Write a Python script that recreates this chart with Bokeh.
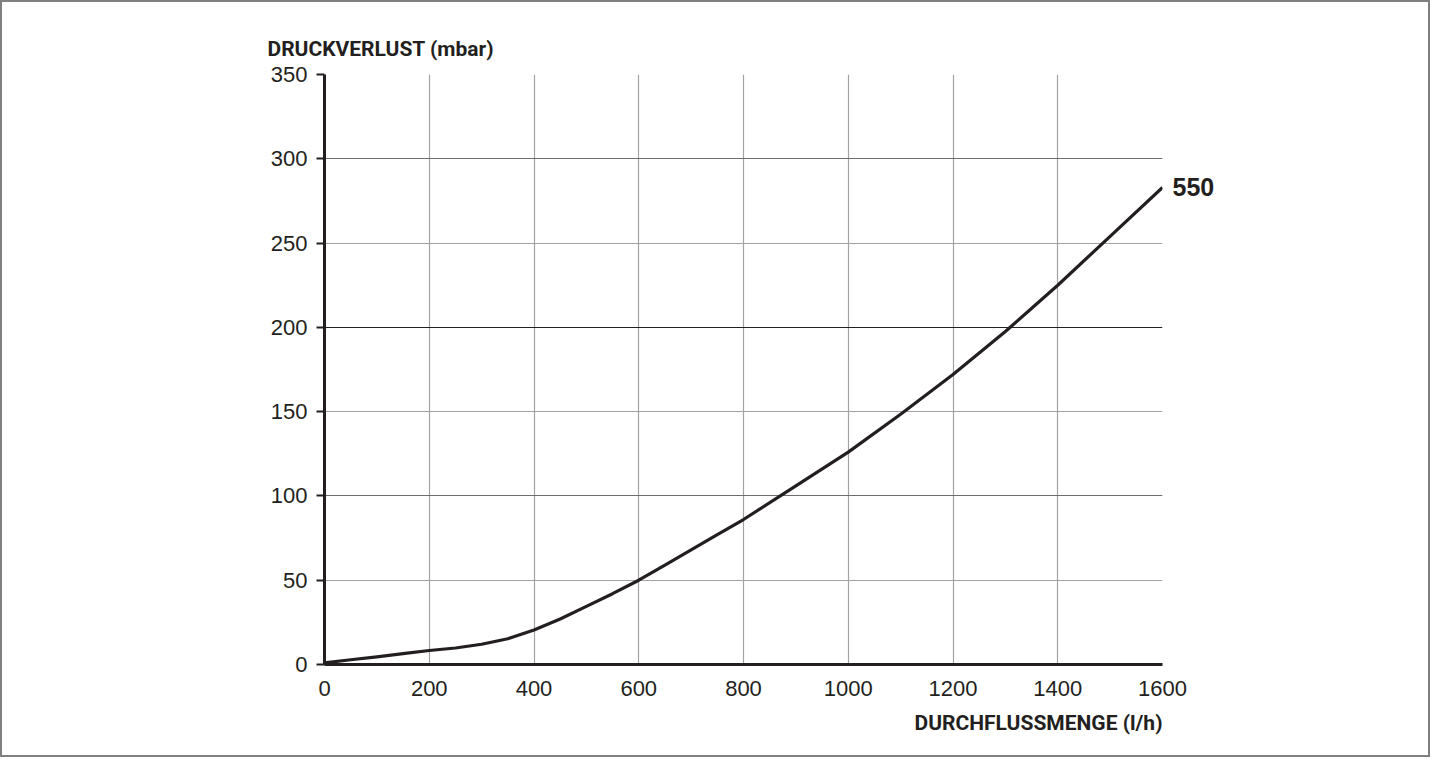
from bokeh.plotting import figure
from bokeh.models import Range1d, FixedTicker, Grid, ColumnDataSource, Title, LinearAxis
from bokeh.embed import file_html
from bokeh.resources import INLINE

# data
flow = [0, 50, 100, 150, 200, 250, 300, 350, 400, 450, 500, 550, 600, 650, 700, 750, 800,
        900, 1000, 1100, 1200, 1300, 1400, 1500, 1600]
pressure = [1, 2.8, 4.5, 6.4, 8.3, 9.8, 12, 15.3, 20.5, 27, 34.5, 42, 50, 59, 68, 77, 86,
            106, 126, 148.5, 172, 197.5, 225, 254, 283]
series_label = "550"
x_ticks = [0, 200, 400, 600, 800, 1000, 1200, 1400, 1600]
y_ticks = [0, 50, 100, 150, 200, 250, 300, 350]
y_title = "DRUCKVERLUST (mbar)"
x_title = "DURCHFLUSSMENGE (l/h)"

INK = "#231f20"

p = figure(width=1430, height=757, output_backend="svg", toolbar_location=None,
           x_range=Range1d(0, 1600), y_range=Range1d(0, 350),
           min_border_left=322, min_border_right=270, min_border_top=72,
           min_border_bottom=95)
p.styles = {"border": "2px solid #808080"}
p.outline_line_color = None
p.background_fill_color = "white"
p.border_fill_color = "white"

p.xgrid.visible = False
p.ygrid.visible = False

# grids
p.add_layout(Grid(dimension=0, ticker=FixedTicker(ticks=x_ticks[1:]),
                  grid_line_color="#a3a3a3", grid_line_width=1.2))
p.add_layout(Grid(dimension=1, ticker=FixedTicker(ticks=[50, 150, 250, 350]),
                  grid_line_color="#a3a3a3", grid_line_width=1.2))
p.add_layout(Grid(dimension=1, ticker=FixedTicker(ticks=[100, 300]),
                  grid_line_color="#6e6e6e", grid_line_width=1.2))
p.add_layout(Grid(dimension=1, ticker=FixedTicker(ticks=[200]),
                  grid_line_color="#222222", grid_line_width=1.2))

# axes
for ax in (p.xaxis[0], p.yaxis[0]):
    ax.axis_line_color = INK
    ax.axis_line_width = 3
    ax.major_tick_line_color = INK
    ax.major_tick_line_width = 2
    ax.minor_tick_line_color = None
    ax.major_label_text_font = "Liberation Sans"
    ax.major_label_text_font_size = "22px"
    ax.major_label_text_color = INK

p.xaxis.ticker = FixedTicker(ticks=x_ticks)
p.xaxis.major_tick_in = 0
p.xaxis.major_tick_out = 0
p.xaxis.major_label_standoff = 16

p.yaxis.ticker = FixedTicker(ticks=y_ticks)
p.yaxis.major_tick_in = 0
p.yaxis.major_tick_out = 8
p.yaxis.major_label_standoff = 9

src = ColumnDataSource(dict(x=flow, y=pressure))
p.line("x", "y", source=src, line_color=INK, line_width=3.2, line_join="round")

# series label at the end of the curve, drawn as a right-hand axis label
end_axis = LinearAxis(ticker=FixedTicker(ticks=[pressure[-1]]),
                      major_label_overrides={pressure[-1]: series_label},
                      axis_line_color=None, major_tick_line_color=None,
                      minor_tick_line_color=None, major_label_standoff=4,
                      major_label_text_font="Liberation Sans",
                      major_label_text_font_style="bold",
                      major_label_text_font_size="25px",
                      major_label_text_color=INK)
p.add_layout(end_axis, "right")

t_top = Title(text=y_title, align="left", offset=-57, text_font="Roboto",
              text_font_style="bold", text_font_size="21px", text_color=INK,
              standoff=28)
p.add_layout(t_top, "above")
t_bot = Title(text=x_title, align="right", offset=0, text_font="Roboto",
              text_font_style="bold", text_font_size="21px", text_color=INK,
              standoff=20)
p.add_layout(t_bot, "below")

open("out.html", "w").write(file_html(p, INLINE))
